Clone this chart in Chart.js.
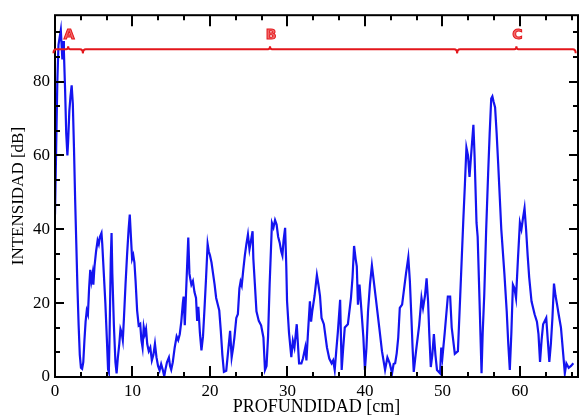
<!DOCTYPE html>
<html lang="es">
<head>
<meta charset="UTF-8">
<title>Intensidad vs profundidad</title>
<script src="https://cdn.jsdelivr.net/npm/chart.js"></script>
<style>
    body {
        margin: 0;
        background: #fff;
    }
    #wrap {
        width: 580px;
        height: 419px;
    }
</style>
</head>
<body>
<div id="wrap"><canvas id="perfil" width="580" height="419"></canvas></div>
<script>
// profundidad (cm) e intensidad (dB) del perfil
const depthCm = [
    0.0, 0.15, 0.3, 0.45, 0.6, 0.75, 0.85, 0.95, 1.05, 1.15, 1.3, 1.45, 1.6, 1.7, 1.85, 2.0, 2.15, 2.3, 2.45, 2.6,
    2.75, 2.9, 3.05, 3.2, 3.35, 3.5, 3.65, 3.8, 3.95, 4.1, 4.25, 4.4, 4.55, 4.7, 4.85, 4.95, 5.1, 5.3, 5.5, 5.65,
    5.8, 6.0, 6.1, 6.3, 6.5, 6.7, 6.85, 6.95, 7.05, 7.2, 7.3, 7.4, 7.6, 7.8, 7.95, 8.1, 8.3, 8.45, 8.6, 8.75,
    8.9, 9.1, 9.3, 9.5, 9.65, 9.8, 9.95, 10.1, 10.25, 10.4, 10.6, 10.8, 11.0, 11.15, 11.3, 11.45, 11.6, 11.75, 11.9, 12.1,
    12.3, 12.5, 12.7, 12.9, 13.1, 13.3, 13.5, 13.7, 13.9, 14.1, 14.25, 14.45, 14.7, 14.85, 15.0, 15.2, 15.45, 15.7, 15.9, 16.1,
    16.3, 16.5, 16.6, 16.75, 16.9, 17.05, 17.2, 17.35, 17.45, 17.6, 17.8, 18.0, 18.2, 18.35, 18.5, 18.7, 18.9, 19.1, 19.3, 19.5,
    19.7, 19.85, 20.0, 20.2, 20.4, 20.6, 20.8, 21.0, 21.2, 21.4, 21.6, 21.8, 22.1, 22.3, 22.6, 22.8, 23.0, 23.15, 23.4, 23.6,
    23.8, 23.95, 24.1, 24.3, 24.5, 24.7, 24.9, 25.1, 25.3, 25.5, 25.6, 25.8, 26.0, 26.3, 26.6, 26.9, 27.1, 27.3, 27.5, 27.7,
    28.0, 28.2, 28.4, 28.6, 28.8, 29.0, 29.2, 29.35, 29.5, 29.7, 29.85, 29.95, 30.2, 30.5, 30.7, 30.9, 31.2, 31.35, 31.5, 31.8,
    32.0, 32.3, 32.45, 32.65, 32.9, 33.05, 33.2, 33.5, 33.8, 34.0, 34.2, 34.4, 34.7, 35.1, 35.4, 35.7, 35.9, 36.1, 36.3, 36.5,
    36.8, 37.0, 37.2, 37.4, 37.8, 38.2, 38.4, 38.6, 38.8, 38.95, 39.1, 39.3, 39.55, 39.8, 40.0, 40.2, 40.4, 40.65, 40.9, 41.1,
    41.4, 41.9, 42.2, 42.6, 42.9, 43.2, 43.5, 43.7, 43.9, 44.1, 44.3, 44.5, 44.8, 45.0, 45.3, 45.6, 45.8, 46.0, 46.15, 46.3,
    46.6, 47.0, 47.3, 47.5, 47.75, 47.96, 48.15, 48.3, 48.5, 48.7, 48.9, 49.1, 49.3, 49.7, 49.85, 50.0, 50.3, 50.7, 51.0, 51.2,
    51.6, 52.0, 52.3, 52.7, 52.9, 53.1, 53.3, 53.5, 53.7, 54.0, 54.15, 54.4, 54.55, 54.8, 55.05, 55.2, 55.4, 55.65, 55.9, 56.1,
    56.3, 56.45, 56.6, 56.8, 57.0, 57.2, 57.6, 58.0, 58.3, 58.5, 58.7, 58.9, 59.1, 59.3, 59.5, 59.75, 60.0, 60.2, 60.4, 60.6,
    60.8, 61.0, 61.2, 61.5, 61.9, 62.2, 62.4, 62.6, 62.8, 63.0, 63.4, 63.6, 63.8, 64.0, 64.2, 64.4, 64.6, 64.8, 65.0, 65.3,
    65.6, 65.8, 66.0, 66.3, 66.6, 66.9
];
const intensityDb = [
    44, 62, 80, 90, 92, 94, 90, 86, 91, 88, 78, 66, 60, 64, 72, 76, 79, 74, 62, 48,
    36, 24, 14, 6, 2.5, 2.2, 4, 10, 15, 18, 17, 24, 29, 26, 28, 25, 30, 34, 37, 36,
    38, 39, 36, 28, 20, 10, 2, 1.3, 12, 32, 39, 28, 14, 4, 1, 5, 9, 13, 12, 10,
    16, 25, 33, 40, 44, 38, 32, 33, 31, 26, 18, 14, 14.4, 10, 8, 13.5, 11.7, 13, 9, 7,
    8, 4.5, 6, 9, 5.3, 3, 1.8, 3.5, 2, 0.2, 2, 4, 5.3, 3, 2, 4, 8, 11, 10, 11.6,
    15, 20, 21.8, 14, 22, 30, 37.8, 28, 26.7, 25, 26, 23, 21.4, 15.2, 19, 12, 7.2, 11, 18.7, 27,
    36, 34, 33, 31, 28, 25, 21.4, 19.7, 18, 12.5, 6, 1.4, 1.7, 6, 12.5, 5.3, 8, 10.6, 16, 17,
    24, 25.8, 24.8, 29, 32.9, 36, 38.6, 34.6, 37, 39.5, 32, 25, 17.8, 15.2, 14, 10.7, 1.9, 3, 11, 25,
    41.7, 40.5, 42.5, 41.3, 38, 36.4, 34, 32.9, 37, 40.4, 30, 20.5, 12, 5.4, 9.8, 8, 14.3, 9, 3.7, 3.7,
    5, 8, 4.5, 12, 20.5, 15, 17.8, 22, 27.6, 25, 22, 16, 14.3, 8, 5, 3.7, 4.5, 1.9, 7.1, 12,
    20.9, 1.9, 8, 13.4, 14.3, 21.4, 27, 35.5, 32, 30, 19.6, 25, 18, 10.7, 1.9, 8, 17.8, 25, 30.2, 26.7,
    21.4, 12.5, 7, 1.9, 5.3, 3.7, 1, 3.5, 3.7, 6.4, 10.7, 18.7, 19.6, 23, 28, 32.4, 26, 16, 8, 1.4,
    7.1, 14, 21.4, 18.7, 22, 26.7, 20.5, 12, 2.7, 6, 11.6, 6, 1.9, 1, 8, 5.3, 12, 21.8, 21.8, 13.4,
    6.3, 7, 22, 42.6, 52, 62.1, 60, 54.2, 60, 68.3, 60, 41.8, 38, 20, 1, 12, 22.2, 40, 55, 66,
    75.4, 76, 74.6, 73, 66, 57.7, 40, 28, 17.8, 9, 1.9, 12, 25, 24, 21.4, 32, 41.8, 40, 43, 45.7,
    40, 33, 27, 20.5, 17, 15, 11.6, 4.1, 10, 14.3, 16, 10, 4.1, 9, 16, 25.3, 22, 19.6, 17, 13.4,
    6, 1, 3.7, 2.5, 3, 3.7
];

// zonas A, B, C marcadas con llaves sobre el perfil
const zoneLabels = ['A', 'B', 'C'];
const zoneStart = [-0.2, 3.6, 51.9];
const zoneEnd = [3.6, 51.9, 67.2];
const zoneLevelDb = 88.8;

const xTicks = [0, 10, 20, 30, 40, 50, 60];
const yTicks = [0, 20, 40, 60, 80];

const serif = '"Liberation Serif", "DejaVu Serif", serif';

// marco con marcas hacia dentro en los cuatro lados
const framePlugin = {
    id: 'frame',
    afterDatasetsDraw(chart) {
        const { ctx, chartArea: a, scales: { x, y } } = chart;
        ctx.save();
        ctx.strokeStyle = '#000';
        ctx.lineWidth = 2;
        ctx.strokeRect(a.left, a.top, a.right - a.left, a.bottom - a.top);
        ctx.beginPath();
        for (let v = 0; v <= x.max + 1e-6; v += 10 / 3) {
            const px = Math.round(x.getPixelForValue(v));
            const major = Math.abs(v / 10 - Math.round(v / 10)) < 1e-6;
            const len = major ? 11 : 5;
            ctx.moveTo(px, a.bottom); ctx.lineTo(px, a.bottom - len);
            ctx.moveTo(px, a.top); ctx.lineTo(px, a.top + len);
        }
        for (let v = 0; v <= y.max + 1e-6; v += 20 / 3) {
            const py = Math.round(y.getPixelForValue(v));
            const major = Math.abs(v / 20 - Math.round(v / 20)) < 1e-6;
            const len = major ? 9 : 5;
            ctx.moveTo(a.left, py); ctx.lineTo(a.left + len, py);
            ctx.moveTo(a.right, py); ctx.lineTo(a.right - len, py);
        }
        ctx.stroke();
        ctx.restore();
    }
};

// llaves horizontales rojas con su letra
const zonePlugin = {
    id: 'zones',
    afterDatasetsDraw(chart) {
        const { ctx, scales: { x, y } } = chart;
        const py = y.getPixelForValue(zoneLevelDb);
        ctx.save();
        ctx.strokeStyle = '#e3161b';
        ctx.lineWidth = 2;
        zoneLabels.forEach((lab, i) => {
            const x0 = x.getPixelForValue(zoneStart[i]);
            const x1 = x.getPixelForValue(zoneEnd[i]);
            const xm = (x0 + x1) / 2;
            ctx.beginPath();
            ctx.moveTo(x0, py + 4);
            ctx.quadraticCurveTo(x0, py, x0 + 3, py);
            ctx.lineTo(xm - 2, py);
            ctx.quadraticCurveTo(xm, py, xm, py - 3);
            ctx.quadraticCurveTo(xm, py, xm + 2, py);
            ctx.lineTo(x1 - 3, py);
            ctx.quadraticCurveTo(x1, py, x1, py + 4);
            ctx.stroke();

            ctx.font = 'bold 14px "DejaVu Sans", sans-serif';
            ctx.textAlign = 'center';
            ctx.textBaseline = 'middle';
            ctx.fillStyle = '#f26b6b';
            ctx.lineWidth = 1;
            ctx.strokeStyle = '#e3161b';
            ctx.fillText(lab, xm + 1, py - 14);
            ctx.strokeText(lab, xm + 1, py - 14);
            ctx.lineWidth = 2;
        });
        ctx.restore();
    }
};

new Chart(document.getElementById('perfil'), {
    type: 'line',
    data: {
        datasets: [{
            data: depthCm.map((d, i) => ({ x: d, y: intensityDb[i] })),
            borderColor: '#1414f0',
            borderWidth: 2.2,
            pointRadius: 0,
            tension: 0,
            fill: false
        }]
    },
    options: {
        responsive: false,
        animation: false,
        devicePixelRatio: 1,
        layout: { padding: { left: 0, top: 9, right: 2, bottom: 0 } },
        plugins: { legend: { display: false }, tooltip: { enabled: false } },
        scales: {
            x: {
                type: 'linear',
                min: 0,
                max: 67.5,
                grid: { display: false, drawTicks: false },
                border: { display: false },
                afterBuildTicks: (s) => { s.ticks = xTicks.map(v => ({ value: v })); },
                afterFit: (s) => { s.height = 42; },
                ticks: { padding: 4, color: '#000', font: { family: serif, size: 17 }, maxRotation: 0 },
                title: {
                    display: true,
                    text: 'PROFUNDIDAD [cm]',
                    color: '#000',
                    font: { family: serif, size: 18 },
                    padding: { top: 0, bottom: 1 }
                }
            },
            y: {
                min: 0,
                max: 98,
                grid: { display: false, drawTicks: false },
                border: { display: false },
                afterBuildTicks: (s) => { s.ticks = yTicks.map(v => ({ value: v })); },
                afterFit: (s) => { s.width = 55; },
                ticks: { padding: 5, color: '#000', font: { family: serif, size: 17 } },
                title: {
                    display: true,
                    text: 'INTENSIDAD [dB]',
                    color: '#000',
                    font: { family: serif, size: 17 },
                    padding: { top: 8, bottom: 0 }
                }
            }
        }
    },
    plugins: [framePlugin, zonePlugin]
});
</script>
</body>
</html>
